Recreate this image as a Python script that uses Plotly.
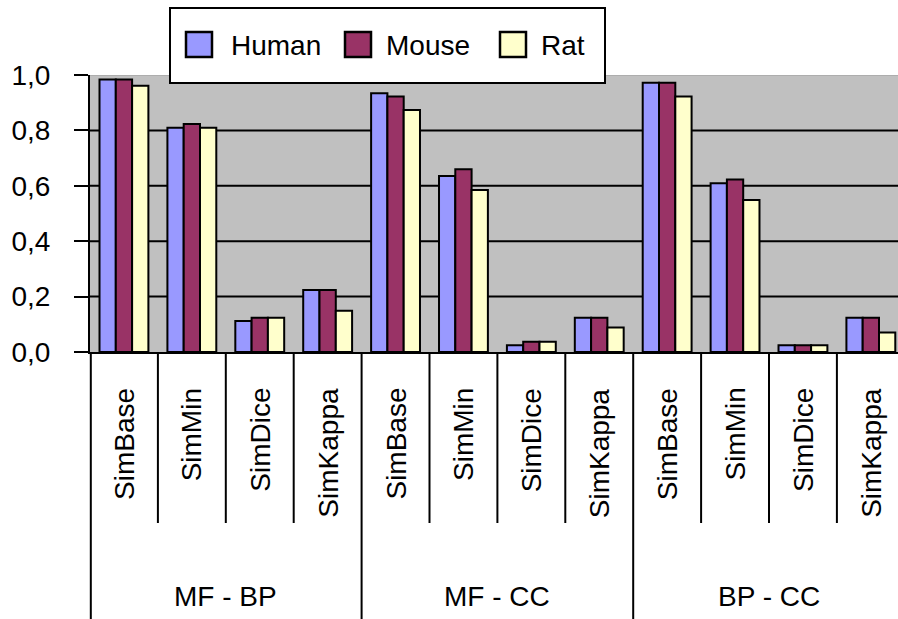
import plotly.graph_objects as go

# ---- data ----
groups = ["MF - BP", "MF - CC", "BP - CC"]
methods = ["SimBase", "SimMin", "SimDice", "SimKappa"]
series_names = ["Human", "Mouse", "Rat"]
series_colors = ["#9999FF", "#993366", "#FFFFCC"]

human = [0.984, 0.810, 0.112, 0.224, 0.934, 0.635, 0.024, 0.124, 0.972, 0.609, 0.024, 0.124]
mouse = [0.984, 0.823, 0.124, 0.224, 0.922, 0.660, 0.037, 0.124, 0.972, 0.623, 0.024, 0.124]
rat = [0.961, 0.810, 0.124, 0.149, 0.874, 0.585, 0.037, 0.088, 0.922, 0.549, 0.024, 0.070]

y_ticks = [0.0, 0.2, 0.4, 0.6, 0.8, 1.0]
y_tick_labels = ["0,0", "0,2", "0,4", "0,6", "0,8", "1,0"]

# ---- layout geometry (pixels) ----
W, H = 898, 619
ML, MR, MT, MB = 90, 0, 75, 267
PW, PH = W - ML - MR, H - MT - MB
CAT_W = 67.9  # width of one category slot


def px_x(X):
    return (X - ML) / PW


def px_y(Y):
    return (H - MB - Y) / PH


FONT = "Liberation Sans, Arial, sans-serif"
FS = 28

categories = [f"{g} / {m}" for g in groups for m in methods]
values = [human, mouse, rat]

fig = go.Figure()
for name, color, vals in zip(series_names, series_colors, values):
    fig.add_trace(go.Bar(
        x=categories, y=vals, name=name,
        marker=dict(color=color, line=dict(color="black", width=2)),
        showlegend=False,
    ))

shapes = []
# horizontal gridlines (inner ticks only; the top edge is the plot border)
for v in y_ticks[1:-1]:
    shapes.append(dict(type="line", xref="paper", yref="y", x0=0, x1=1, y0=v, y1=v,
                       line=dict(color="black", width=2), layer="below"))
# thin border along the top of the plot area
shapes.append(dict(type="line", xref="paper", yref="y", x0=0, x1=1, y0=1, y1=1,
                   line=dict(color="#9a9a9a", width=1), layer="below"))

# category dividers below the axis
n_cat = len(categories)
inner_bottom = px_y(523)
outer_bottom = px_y(H)
for i in range(1, n_cat):
    outer = i % len(methods) == 0
    shapes.append(dict(type="line", xref="x", yref="paper", x0=i - 0.5, x1=i - 0.5,
                       y0=0, y1=outer_bottom if outer else inner_bottom,
                       line=dict(color="black", width=2)))
shapes.append(dict(type="line", xref="paper", yref="paper", x0=0.001, x1=0.001,
                   y0=0, y1=outer_bottom, line=dict(color="black", width=2)))

annotations = []
for i, cat in enumerate(categories):
    annotations.append(dict(
        x=i, xref="x", y=px_y(386), yref="paper", yanchor="top", xanchor="center",
        text=methods[i % len(methods)], textangle=-90, showarrow=False,
        font=dict(family=FONT, size=FS, color="black"),
    ))
for gi, g in enumerate(groups):
    annotations.append(dict(
        x=gi * len(methods) + (len(methods) - 1) / 2, xref="x",
        y=px_y(596), yref="paper", yanchor="middle", xanchor="center",
        text=g, showarrow=False, font=dict(family=FONT, size=FS, color="black"),
    ))

# legend box
shapes.append(dict(type="rect", xref="paper", yref="paper",
                   x0=px_x(170), x1=px_x(605), y0=px_y(83), y1=px_y(8),
                   fillcolor="white", line=dict(color="black", width=2), layer="above"))
legend_x = [(186, 229), (345, 384), (500, 539)]
for (sx, tx), name, color in zip(legend_x, series_names, series_colors):
    shapes.append(dict(type="rect", xref="paper", yref="paper",
                       x0=px_x(sx), x1=px_x(sx + 26), y0=px_y(57), y1=px_y(32),
                       fillcolor=color, line=dict(color="black", width=2.5), layer="above"))
    annotations.append(dict(
        x=px_x(tx), xref="paper", y=px_y(45), yref="paper", xanchor="left",
        yanchor="middle", text=name, showarrow=False,
        font=dict(family=FONT, size=FS, color="black"),
    ))

x_end = -0.5 + PW / CAT_W

fig.update_layout(
    width=W, height=H,
    margin=dict(l=ML, r=MR, t=MT, b=MB, pad=0),
    paper_bgcolor="white", plot_bgcolor="#C0C0C0",
    barmode="group", bargap=0.28, bargroupgap=0,
    font=dict(family=FONT, size=FS, color="black"),
    shapes=shapes, annotations=annotations,
    xaxis=dict(type="category", range=[-0.5, x_end], showticklabels=False,
               ticks="", showgrid=False, showline=True, linecolor="black",
               linewidth=2, zeroline=False, fixedrange=True),
    yaxis=dict(range=[0, 1], tickvals=y_ticks, ticktext=y_tick_labels,
               showgrid=False, zeroline=False, showline=True, linecolor="black",
               linewidth=2, ticks="outside", ticklen=14, tickwidth=2,
               tickcolor="black", ticklabelstandoff=18,
               tickfont=dict(family=FONT, size=FS, color="black")),
)

fig.write_html("out.html")
